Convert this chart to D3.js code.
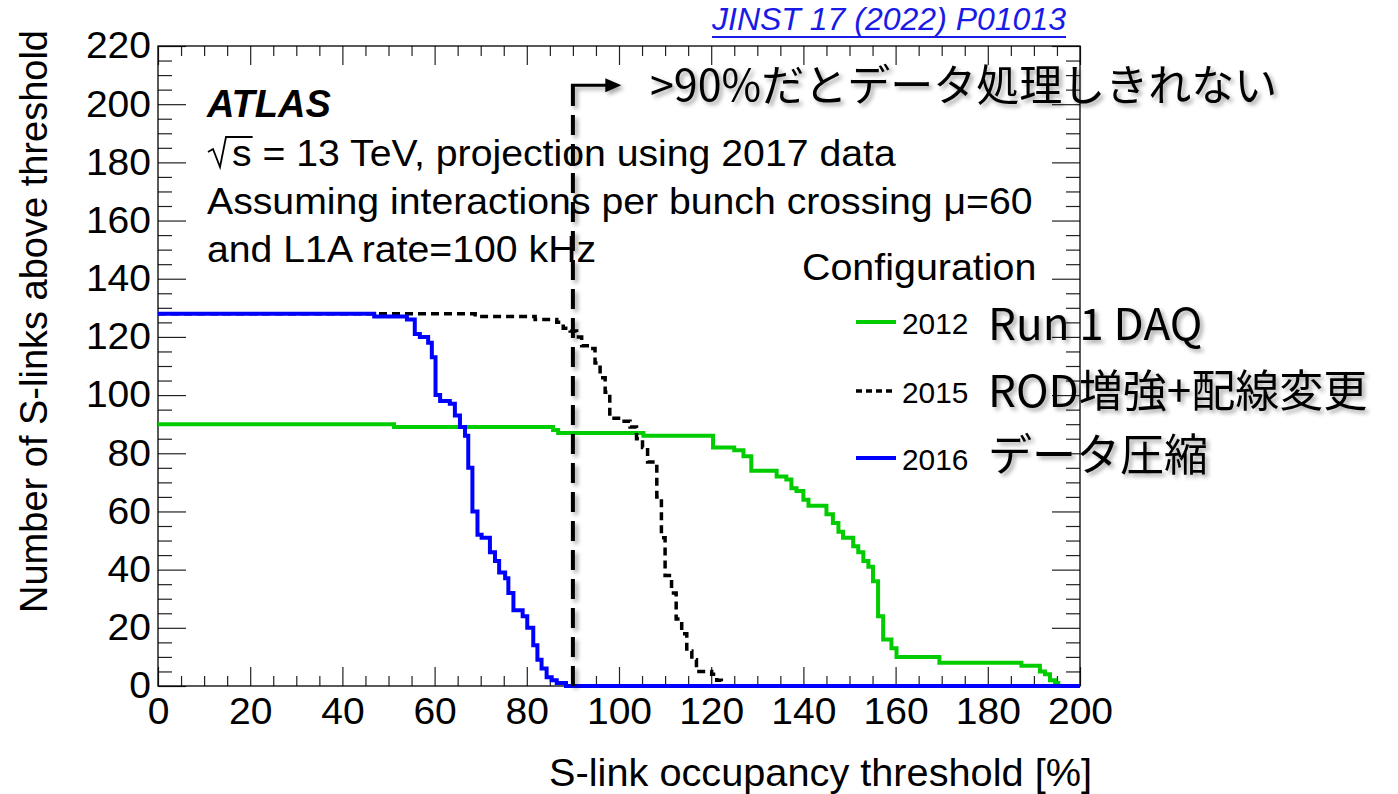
<!DOCTYPE html>
<html>
<head>
<meta charset="utf-8">
<script src="https://cdn.jsdelivr.net/npm/d3@7"></script>
<style>
  body { margin: 0; background: #ffffff; }
</style>
</head>
<body>
<svg id="chart" width="1398" height="794"></svg>
<script>
// S-link occupancy threshold [%] at which the count changes, and the number of
// S-links above threshold from that point on (step function).
const cfg2012X = [0, 51.2, 85.7, 86.8, 105.3, 120.4, 125.0, 127.0, 128.7, 134.2, 136.3, 137.4,
  138.5, 140.0, 141.1, 145.0, 146.4, 147.6, 148.6, 150.8, 151.9, 153.0, 154.1, 155.1, 156.2,
  157.3, 159.1, 160.2, 169.5, 187.3, 191.3, 192.4, 193.5, 194.6, 195.3];
const cfg2012Y = [90, 89, 88, 87, 86, 82, 81, 79, 74, 72, 71, 68,
  67, 64, 62, 59, 56, 53, 51, 48, 46, 43, 41, 36, 24,
  16, 13, 10, 8, 7, 5, 4, 2, 1, 0];

const cfg2015X = [0, 68.8, 81.8, 86.5, 87.9, 89.4, 90.8, 91.9, 93.7, 94.8, 95.9, 97.0, 98.0,
  100.4, 102.4, 103.8, 105.1, 106.2, 108.2, 109.2, 110.0, 111.4, 112.4, 113.6, 114.7, 115.8,
  116.8, 120.1, 121.2, 122.2];
const cfg2015Y = [128, 127, 126, 125, 123, 122, 120, 117, 116, 111, 106, 101, 92,
  91, 89, 85, 82, 77, 65, 51, 38, 32, 23, 18, 12, 9,
  5, 4, 2, 0];

const cfg2016X = [0, 46.9, 54.0, 55.7, 56.8, 58.6, 59.4, 60.2, 61.2, 63.3, 64.4, 65.5, 66.6,
  67.3, 68.2, 69.3, 70.2, 72.0, 73.1, 74.0, 75.3, 76.0, 77.1, 79.1, 80.1, 81.4, 82.3, 83.2,
  84.3, 85.4, 86.5, 88.5];
const cfg2016Y = [128, 127, 126, 121, 120, 118, 113, 100, 98, 97, 93, 89, 86,
  75, 60, 52, 51, 46, 43, 39, 37, 32, 26, 24, 20, 14, 9, 6,
  3, 2, 1, 0];

const xMajorTicks = [0, 20, 40, 60, 80, 100, 120, 140, 160, 180, 200];
const yMajorTicks = [0, 20, 40, 60, 80, 100, 120, 140, 160, 180, 200, 220];
const minorStep = 5;

const infoLines = [
  "s = 13 TeV, projection using 2017 data",
  "Assuming interactions per bunch crossing \u03bc=60",
  "and L1A rate=100 kHz"
];
const legendTitle = "Configuration";
const legendYears = ["2012", "2015", "2016"];
const legendNotes = ["Run 1 DAQ", "ROD増強+配線変更", "データ圧縮"];
const limitNote = ">90%だとデータ処理しきれない";
const limitThreshold = 90;      // occupancy limit [%]
const limitMarkerTop = 206.5;   // height of the limit marker, in S-link counts
const limitArrowEnd = 100.5;    // arrow tip, in occupancy [%]
const referenceText = "JINST 17 (2022) P01013";

const plotFont = "'Liberation Sans', Arial, Helvetica, sans-serif";
const jpFont = "'Noto Sans CJK JP', 'Noto Sans', sans-serif";
const stretch = 1.055;   // plot lettering is set slightly wide

const svg = d3.select("#chart");

const defs = svg.append("defs");
const shadow = defs.append("filter").attr("id", "soft-shadow")
  .attr("x", "-10%").attr("y", "-30%").attr("width", "130%").attr("height", "170%");
shadow.append("feDropShadow").attr("dx", 3).attr("dy", 3).attr("stdDeviation", 2)
  .attr("flood-color", "#000").attr("flood-opacity", 0.35);

const x = d3.scaleLinear().domain([0, 200]).range([158, 1080]);
const y = d3.scaleLinear().domain([0, 220]).range([686, 46]);

const minorX = d3.range(0, 200 + 0.001, minorStep).filter(v => !xMajorTicks.includes(v));
const minorY = d3.range(0, 220 + 0.001, minorStep).filter(v => !yMajorTicks.includes(v));

// text placed at (px, py), widened horizontally by sx
function wideText(px, py, sx, str, size, anchor) {
  return svg.append("text")
    .attr("transform", `translate(${px},${py}) scale(${sx},1)`)
    .attr("text-anchor", anchor || "start")
    .attr("font-family", plotFont).attr("font-size", size).attr("fill", "#000")
    .text(str);
}

function styleAxis(g) {
  g.select(".domain").remove();
  g.selectAll(".tick line").attr("stroke", "#222").attr("stroke-width", 1.2);
  g.selectAll("text").attr("font-family", plotFont).attr("font-size", 37).attr("fill", "#000");
}

// bottom axis with labels, ticks pointing into the frame
svg.append("g").attr("transform", `translate(0,${y(0)})`)
  .call(d3.axisBottom(x).tickValues(xMajorTicks).tickSizeInner(-19).tickSizeOuter(0)
    .tickPadding(12).tickFormat(d3.format("d")))
  .call(styleAxis)
  .call(g => g.selectAll("text").attr("transform", `scale(${stretch},1)`));
svg.append("g").attr("transform", `translate(0,${y(0)})`)
  .call(d3.axisBottom(x).tickValues(minorX).tickSizeInner(-10).tickSizeOuter(0).tickFormat(""))
  .call(styleAxis);
// top axis, ticks only
svg.append("g").attr("transform", `translate(0,${y(220)})`)
  .call(d3.axisTop(x).tickValues(xMajorTicks).tickSizeInner(-19).tickSizeOuter(0).tickFormat(""))
  .call(styleAxis);
svg.append("g").attr("transform", `translate(0,${y(220)})`)
  .call(d3.axisTop(x).tickValues(minorX).tickSizeInner(-10).tickSizeOuter(0).tickFormat(""))
  .call(styleAxis);
// left axis with labels
svg.append("g").attr("transform", `translate(${x(0)},0)`)
  .call(d3.axisLeft(y).tickValues(yMajorTicks).tickSizeInner(-28).tickSizeOuter(0)
    .tickPadding(7).tickFormat(d3.format("d")))
  .call(styleAxis)
  .call(g => g.selectAll("text").attr("transform", `scale(${stretch},1)`).attr("x", -7 / stretch));
svg.append("g").attr("transform", `translate(${x(0)},0)`)
  .call(d3.axisLeft(y).tickValues(minorY).tickSizeInner(-14).tickSizeOuter(0).tickFormat(""))
  .call(styleAxis);
// right axis, ticks only
svg.append("g").attr("transform", `translate(${x(200)},0)`)
  .call(d3.axisRight(y).tickValues(yMajorTicks).tickSizeInner(-28).tickSizeOuter(0).tickFormat(""))
  .call(styleAxis);
svg.append("g").attr("transform", `translate(${x(200)},0)`)
  .call(d3.axisRight(y).tickValues(minorY).tickSizeInner(-14).tickSizeOuter(0).tickFormat(""))
  .call(styleAxis);

// frame
svg.append("rect")
  .attr("x", x(0)).attr("y", y(220))
  .attr("width", x(200) - x(0)).attr("height", y(0) - y(220))
  .attr("fill", "none").attr("stroke", "#000").attr("stroke-width", 1.3);

// axis titles
svg.append("text")
  .attr("transform", `translate(47,30) rotate(-90)`)
  .attr("text-anchor", "end")
  .attr("font-family", plotFont).attr("font-size", 38).attr("fill", "#000")
  .text("Number of S-links above threshold");
wideText(1092, 786, 1.045, "S-link occupancy threshold [%]", 38, "end");

// step curves
const step = d3.line().x(d => x(d[0])).y(d => y(d[1])).curve(d3.curveStepAfter);
function stepPoints(xs, ys) {
  const pts = xs.map((v, i) => [v, ys[i]]);
  pts.push([200, ys[ys.length - 1]]);
  return pts;
}
const series = [
  { xs: cfg2012X, ys: cfg2012Y, color: "#00cc00", width: 4, dash: null },
  { xs: cfg2015X, ys: cfg2015Y, color: "#000000", width: 3.5, dash: "8,5" },
  { xs: cfg2016X, ys: cfg2016Y, color: "#0000ff", width: 4, dash: null }
];
series.forEach(s => {
  svg.append("path")
    .datum(stepPoints(s.xs, s.ys))
    .attr("d", step)
    .attr("fill", "none")
    .attr("stroke", s.color)
    .attr("stroke-width", s.width)
    .attr("stroke-dasharray", s.dash)
    .attr("stroke-linejoin", "miter")
    .attr("stroke-linecap", "butt");
});

// ATLAS label and run conditions
svg.append("text")
  .attr("x", 207).attr("y", 117)
  .attr("font-family", plotFont).attr("font-size", 38)
  .attr("font-weight", "bold").attr("font-style", "italic").attr("fill", "#000")
  .text("ATLAS");

const infoY = [166, 214, 262];
infoLines.forEach((line, i) => {
  const t = wideText(i === 0 ? 232 : 207, infoY[i], 1.06, line, 37);
  if (i === 0) {
    // radical sign with overbar on "s"
    const sWidth = t.node().getSubStringLength(0, 1) * 1.06;
    svg.append("path")
      .attr("d", `M208,${infoY[i] - 14} L213,${infoY[i] - 17} L220,${infoY[i] + 1} L226,${infoY[i] - 29} L${232 + sWidth + 1},${infoY[i] - 29}`)
      .attr("fill", "none").attr("stroke", "#000").attr("stroke-width", 1.8);
  }
});

// legend
wideText(802, 280, 1.08, legendTitle, 36.5);
const legendRowY = [322, 391, 458];
series.forEach((s, i) => {
  svg.append("line")
    .attr("x1", 856).attr("x2", 896)
    .attr("y1", legendRowY[i]).attr("y2", legendRowY[i])
    .attr("stroke", s.color).attr("stroke-width", s.width)
    .attr("stroke-dasharray", s.dash ? "6,4" : null);
  wideText(902, legendRowY[i] + 12, 1.03, legendYears[i], 29);
});
const noteY = [340, 407, 471];
legendNotes.forEach((n, i) => {
  svg.append("text")
    .attr("x", 988).attr("y", noteY[i])
    .attr("font-family", jpFont).attr("font-size", 44).attr("fill", "#000")
    .attr("filter", "url(#soft-shadow)")
    .text(n);
});

// processing limit marker
const limitG = svg.append("g").attr("filter", "url(#soft-shadow)");
limitG.append("line")
  .attr("x1", x(limitThreshold)).attr("x2", x(limitThreshold))
  .attr("y1", y(0)).attr("y2", y(limitMarkerTop))
  .attr("stroke", "#000").attr("stroke-width", 4)
  .attr("stroke-dasharray", "20,9");
limitG.append("line")
  .attr("x1", x(limitThreshold) - 2).attr("x2", x(limitArrowEnd) - 14)
  .attr("y1", y(limitMarkerTop)).attr("y2", y(limitMarkerTop))
  .attr("stroke", "#000").attr("stroke-width", 3);
limitG.append("path")
  .attr("d", `M${x(limitArrowEnd)},${y(limitMarkerTop)} l-16,-7 l0,14 z`)
  .attr("fill", "#000");
svg.append("text")
  .attr("x", 650).attr("y", 101)
  .attr("font-family", jpFont).attr("font-size", 43).attr("fill", "#000")
  .attr("filter", "url(#soft-shadow)")
  .text(limitNote);

// reference
const ref = svg.append("text")
  .attr("x", 1066).attr("y", 30)
  .attr("text-anchor", "end")
  .attr("font-family", plotFont).attr("font-size", 32).attr("font-style", "italic")
  .attr("fill", "#1a1ae6")
  .text(referenceText);
const refLen = ref.node().getComputedTextLength();
svg.append("line")
  .attr("x1", 1066 - refLen).attr("x2", 1066)
  .attr("y1", 37).attr("y2", 37)
  .attr("stroke", "#1a1ae6").attr("stroke-width", 2);
</script>
</body>
</html>
